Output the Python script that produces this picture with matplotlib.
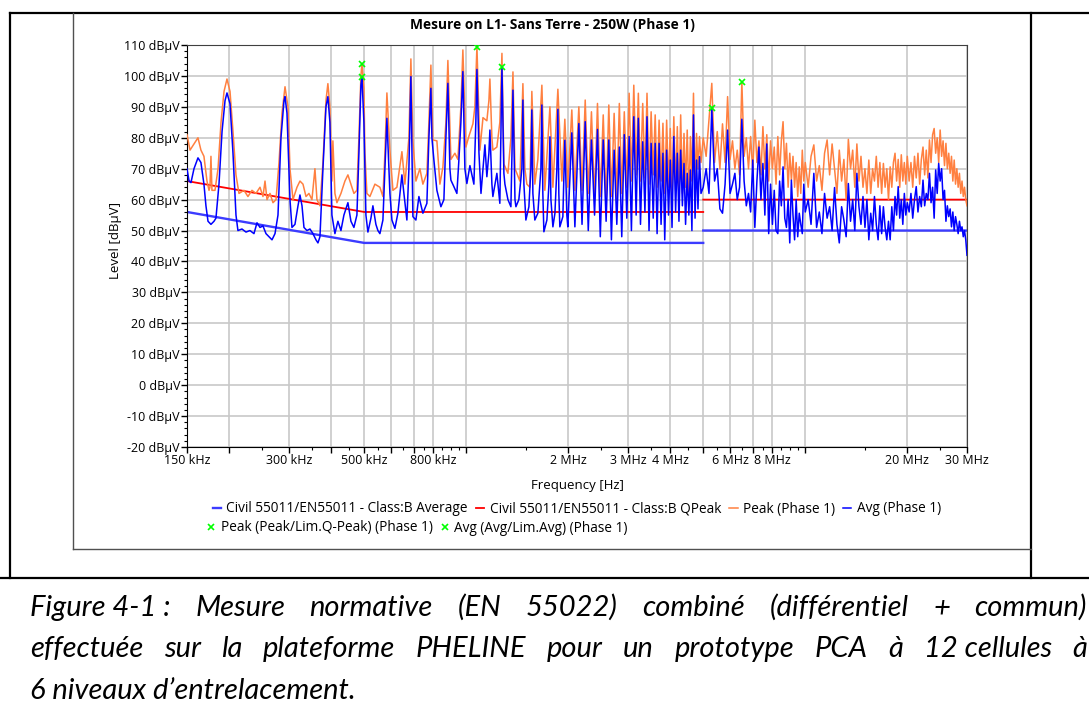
import numpy as np
import matplotlib
matplotlib.use("Agg")
import matplotlib.pyplot as plt
from matplotlib.lines import Line2D
from matplotlib.ticker import FixedLocator, FuncFormatter, MultipleLocator, LogLocator

plt.rcParams['font.family'] = ['Open Sans', 'DejaVu Sans']

W, H = 1089, 724

# EN55011 class B limits (kHz, dBuV); NaN splits the step at 5 MHz
qpeak_lim_khz = [150, 500, 5000, np.nan, 5000, 30000]
qpeak_lim_db = [66, 56, 56, np.nan, 60, 60]
avg_lim_khz = [150, 500, 5000, np.nan, 5000, 30000]
avg_lim_db = [56, 46, 46, np.nan, 50, 50]

# Peak detector, 150 kHz - 2.15 MHz
peak_lf_khz = [150, 153.1, 157.3, 161.6, 164.9, 168.3, 171.8, 174.2, 175.3, 176.5,
               177.7, 181.4, 185.2, 189.0, 192.9, 196.8, 200.9, 205.0, 209.2, 213.5,
               220.9, 226.9, 233.2, 239.6, 246.3, 251.3, 254.8, 258.3, 263.6, 269.0,
               274.6, 280.2, 286.0, 291.9, 297.8, 301.9, 308.1, 316.6, 323.1, 329.8,
               336.6, 343.4, 350.5, 357.7, 362.6, 370.1, 377.7, 385.5, 390.6, 396.0,
               401.4, 404.1, 409.7, 415.3, 426.8, 438.5, 447.5, 456.8, 466.1, 475.7,
               482.2, 488.8, 492.2, 498.9, 502.3, 509.1, 519.6, 537.6, 556.1, 567.6,
               575.4, 583.2, 595.2, 607.5, 624.2, 645.8, 659.1, 677.2, 686.4, 695.8,
               710.2, 729.7, 744.7, 765.2, 775.7, 786.3, 797.0, 819.0, 835.9, 853.1,
               870.7, 882.5, 900.7, 925.5, 944.5, 964.0, 977.1, 997.3, 1018, 1046,
               1060, 1075, 1097, 1120, 1150, 1166, 1174, 1190, 1198, 1231,
               1256, 1274, 1291, 1327, 1354, 1373, 1392, 1410, 1439, 1469,
               1489, 1509, 1540, 1561, 1593, 1626, 1671, 1705, 1765, 1801,
               1863, 1914, 1953, 1993, 2048, 2091, 2148]
peak_lf_db = [81, 76, 78, 80, 76, 74, 66, 63, 64, 74,
              63, 63, 70, 85, 95, 99, 95, 82, 68, 62,
              63, 61, 63, 62, 64, 61, 66, 60, 62, 59,
              60, 72, 88, 96.5, 90, 70, 60, 64, 66, 65,
              61, 62, 60, 70, 60, 58, 72, 92, 97.5, 90,
              66, 79, 62, 59, 62, 66, 68, 65, 62, 63,
              80, 100, 104, 96, 75, 62, 61, 65, 64, 61,
              75, 94.5, 76, 63, 64, 75.5, 65, 80, 105.5, 79,
              66, 70, 65, 68.5, 85, 103.5, 79.3, 79, 65, 70.5,
              85, 105, 73, 75, 73, 90, 108.4, 77, 80.5, 84.5,
              90, 109.5, 76, 86.5, 85.5, 92, 99, 80, 76, 77,
              85, 107.3, 71.5, 68.5, 80, 101.3, 70, 68.5, 66, 97.5,
              70, 65, 64, 95, 65, 73, 97, 63, 90, 64,
              95.7, 66, 86, 64, 89, 63, 90]

# Average detector, 150 kHz - 2.15 MHz
avg_lf_khz = [150, 152.1, 154.1, 157.3, 161.6, 164.9, 168.3, 170.6, 173.0, 176.5,
              180.2, 182.6, 186.4, 190.3, 194.2, 196.8, 200.9, 205.0, 209.2, 212.0,
              217.9, 223.9, 230.0, 236.4, 241.3, 246.3, 251.3, 256.5, 261.8, 267.2,
              272.7, 278.3, 284.0, 289.9, 291.9, 295.8, 301.9, 306.0, 312.3, 318.8,
              323.1, 327.6, 332.0, 338.8, 345.8, 352.9, 360.2, 365.1, 370.1, 377.7,
              385.5, 390.6, 396.0, 401.4, 409.7, 418.1, 426.8, 435.5, 447.5, 456.8,
              466.1, 475.7, 482.2, 488.8, 492.2, 498.9, 505.7, 512.6, 523.2, 530.3,
              541.2, 548.6, 556.1, 567.6, 575.4, 583.2, 595.2, 603.4, 615.8, 628.4,
              637.1, 645.8, 654.6, 668.0, 677.2, 686.4, 695.8, 710.2, 724.8, 744.7,
              765.2, 775.7, 786.3, 791.7, 802.5, 819.0, 841.6, 858.9, 870.7, 882.5,
              894.6, 900.7, 919.2, 938.1, 951.0, 964.0, 977.1, 990.5, 1004, 1025,
              1053, 1067, 1075, 1090, 1105, 1135, 1150, 1166, 1174, 1190,
              1198, 1231, 1256, 1265, 1274, 1291, 1300, 1327, 1354, 1364,
              1373, 1392, 1401, 1429, 1459, 1469, 1479, 1499, 1530, 1551,
              1561, 1572, 1593, 1626, 1660, 1671, 1682, 1694, 1729, 1753,
              1765, 1777, 1801, 1826, 1850, 1863, 1875, 1888, 1927, 1953,
              1980, 1993, 2048, 2091, 2148]
avg_lf_db = [70, 66, 65.5, 70, 73.5, 72, 65, 58, 53, 52,
             53, 54, 65, 82, 92, 94.5, 91, 75, 55, 50,
             50.5, 49.5, 50, 49, 52.5, 51, 51.5, 49, 48, 47,
             49, 55, 80, 92, 93.3, 88, 60, 51, 52, 58,
             61.5, 58, 51, 50, 50.5, 49, 47, 46, 48, 70,
             90, 93.3, 85, 55, 49, 53, 50, 55, 59, 53,
             51, 55, 75, 97, 99.7, 85, 55, 49.5, 54, 58,
             52, 50, 49, 53.4, 70, 86.3, 62, 53.4, 50.7, 55.6,
             62, 68, 62, 53.4, 70, 99.8, 54.5, 53.4, 61, 55.6,
             58.8, 80, 96, 80, 72.8, 63, 57.7, 60, 80, 97.6,
             70, 66.3, 64.2, 62, 72.8, 85, 101.4, 70, 65.2, 71,
             65, 85, 102.1, 75, 62, 77.7, 67.4, 75, 82.5, 65,
             61, 68.5, 58.8, 80, 103, 68.5, 65, 60, 57.7, 75,
             95.4, 60, 57.7, 60, 70, 92.2, 65, 53.4, 57.7, 70,
             89, 62, 53.4, 55.6, 70, 90.6, 62, 49.6, 53.4, 65,
             80.3, 60, 51.2, 55.6, 70, 89.2, 62, 51.2, 54.5, 79.2,
             55, 51.2, 81.6, 51.2, 84.6]

# switching harmonics between 2.2 and 4.9 MHz: tips and the floor between them
harm_khz = [2243, 2340, 2438, 2535, 2633, 2730, 2828, 2925, 3023, 3120,
            3218, 3315, 3413, 3510, 3608, 3705, 3803, 3900, 3998, 4095,
            4193, 4290, 4388, 4485, 4583, 4680, 4778, 4875]
gap_khz = [2195, 2290, 2390, 2485, 2585, 2680, 2780, 2875, 2975, 3070,
           3170, 3265, 3365, 3460, 3560, 3655, 3755, 3850, 3950, 4045,
           4145, 4240, 4340, 4435, 4535, 4630, 4730, 4825, 4925]
peak_harm_db = [92.2, 88.4, 91.1, 87.4, 90.6, 87.9, 91.1, 88.4, 94.4, 97,
                94.4, 91.1, 94.4, 88.4, 87.4, 85.7, 84.7, 85.7, 83, 86.8,
                83.6, 87.4, 81.4, 82.5, 80.4, 94.4, 81.4, 80.4]
peak_gap_db = [63, 62, 60, 61, 59, 61, 60, 62, 64, 66,
               68, 66, 67, 65, 68, 64, 66, 62, 64, 61,
               63, 60, 62, 64, 60, 66, 62, 70, 72]
avg_harm_db = [85.2, 79.3, 82.7, 79.3, 79.3, 76, 77, 81, 80.4, 86.8,
               86.3, 78.7, 86.8, 78.2, 78.2, 78.2, 75, 76, 72.8, 80.4,
               75, 76, 71.7, 68.5, 69.6, 87.4, 72.8, 73.9]
avg_gap_db = [52, 50, 55, 48, 53, 47, 52, 48, 54, 50,
              55, 52, 56, 50, 54, 49, 52, 47, 55, 51,
              56, 53, 58, 52, 55, 50, 54, 57, 62]

# 5 - 30 MHz band
hf_mhz = [5.0, 5.1, 5.2, 5.3, 5.4, 5.5, 5.6, 5.7, 5.8, 5.9,
          6.0, 6.1, 6.2, 6.3, 6.4, 6.5, 6.6, 6.7, 6.8, 6.9,
          7.0, 7.1, 7.2, 7.3, 7.4, 7.5, 7.6, 7.7, 7.8, 7.9,
          8.0, 8.1, 8.2, 8.3, 8.4, 8.5, 8.6, 8.7, 8.8, 8.9,
          9.0, 9.1, 9.2, 9.3, 9.4, 9.5, 9.6, 9.7, 9.8, 9.9,
          10.0, 10.2, 10.4, 10.6, 10.8, 11.0, 11.2, 11.4, 11.6, 11.8,
          12.0, 12.2, 12.4, 12.6, 12.8, 13.0, 13.2, 13.4, 13.6, 13.8,
          14.0, 14.2, 14.4, 14.6, 14.8, 15.0, 15.2, 15.4, 15.6, 15.8,
          16.0, 16.2, 16.4, 16.6, 16.8, 17.0, 17.2, 17.4, 17.6, 17.8,
          18.0, 18.2, 18.4, 18.6, 18.8, 19.0, 19.2, 19.4, 19.6, 19.8,
          20.0, 20.25, 20.5, 20.75, 21.0, 21.25, 21.5, 21.75, 22.0, 22.25,
          22.5, 22.75, 23.0, 23.25, 23.5, 23.75, 24.0, 24.25, 24.5, 24.75,
          25.0, 25.25, 25.5, 25.75, 26.0, 26.25, 26.5, 26.75, 27.0, 27.25,
          27.5, 27.75, 28.0, 28.25, 28.5, 28.75, 29.0, 29.25, 29.5, 29.75,
          30.0]
peak_hf_db = [80, 74, 86, 97.6, 72, 82, 70, 84.5, 72, 93.3,
              73, 79, 70, 76, 68, 98.1, 74, 80, 70, 80.4,
              69, 85.7, 72, 79, 68, 83.6, 70, 81, 66, 79,
              70, 77, 65, 80.4, 68, 79, 85.2, 70, 78.2, 64,
              75, 66.3, 74, 64, 72, 61, 70.6, 62, 76, 66,
              72, 64, 74, 77.7, 66, 71, 63, 75, 79.3, 68,
              78, 70, 62, 76, 66, 73, 60, 79.5, 70, 76,
              64, 78, 66, 74, 64, 70, 62, 72.8, 62, 70,
              66, 74, 64, 72, 62, 71.7, 64, 70, 60, 70.6,
              64, 72, 75, 66, 73, 64, 74.5, 66, 72, 65,
              74, 66, 72, 64, 74, 67, 75, 65, 73, 77,
              68, 76, 67, 79.3, 72, 81, 83, 75, 80, 72,
              82.5, 74, 79, 71, 78.2, 70, 75, 68.5, 74, 66,
              72.8, 65, 70, 64, 68.5, 62, 66, 61, 64, 60,
              58]
avg_hf_db = [64, 70, 62, 89.5, 66, 70, 57, 55.6, 65, 82.5,
             62, 65, 68.5, 60, 64, 86, 66, 58, 62, 56,
             72.8, 51, 66, 77, 60, 71.7, 55, 78, 49, 65,
             52, 63, 50, 49, 66, 58, 70.6, 54, 51, 60,
             46, 66.3, 55, 47, 60, 48, 55.6, 52, 49, 65,
             56, 60, 52, 68.5, 51, 56, 49, 62, 54, 57.7,
             50, 63.9, 52, 46, 57.7, 53.4, 48, 65.2, 53, 60,
             50, 68.5, 57.7, 52, 61, 51, 60, 47, 55.6, 50,
             61, 52, 47, 58, 49, 57.7, 51, 47, 53, 47,
             57.7, 50, 61, 55, 64.2, 54, 60, 52, 62, 55,
             59, 56, 62, 54, 60, 64.2, 56, 61, 57.7, 66.3,
             58, 62, 60, 68.5, 59, 64, 54, 69.6, 62, 71.7,
             66, 70, 60, 63, 53, 58, 54.5, 57, 51.2, 56,
             50, 54.5, 52, 49, 53, 50, 51.2, 48, 50, 47,
             42]

# worst-case points flagged against the limits
peak_mark_khz = [492.2, 1075, 6500]
peak_mark_db = [104, 109.5, 98.1]
avg_mark_khz = [492.2, 1274, 5300]
avg_mark_db = [99.7, 103, 89.5]

grid_hz = [2e5, 3e5, 4e5, 5e5, 6e5, 7e5, 8e5, 1e6, 2e6, 3e6, 4e6, 5e6, 6e6, 7e6, 8e6, 1e7, 2e7]
xlabel_hz = [1.5e5, 3e5, 5e5, 8e5, 2e6, 3e6, 4e6, 6e6, 8e6, 2e7, 3e7]
xlabel_txt = ['150 kHz', '300 kHz', '500 kHz', '800 kHz', '2 MHz', '3 MHz', '4 MHz',
              '6 MHz', '8 MHz', '20 MHz', '30 MHz']

caption_lines = [
    ['Figure 4-1 :', 'Mesure', 'normative', '(EN', '55022)', 'combiné', '(différentiel', '+',
     'commun)'],
    ['effectuée', 'sur', 'la', 'plateforme', 'PHELINE', 'pour', 'un', 'prototype', 'PCA', 'à',
     '12 cellules', 'à'],
    ['6 niveaux d’entrelacement.'],
]
caption_base = [616, 657, 699]
caption_justify = [True, True, False]


def fx(x):
    return x / W


def fy(y):
    return 1 - y / H


def stitch(tip_db, gap_db):
    khz, db = [gap_khz[0]], [gap_db[0]]
    for i in range(len(harm_khz)):
        khz += [harm_khz[i], gap_khz[i + 1]]
        db += [tip_db[i], gap_db[i + 1]]
    return khz, db


ph_khz, ph_db = stitch(peak_harm_db, peak_gap_db)
ah_khz, ah_db = stitch(avg_harm_db, avg_gap_db)
peak_hz = np.array(peak_lf_khz + ph_khz + [f * 1000 for f in hf_mhz]) * 1e3
peak_db = np.array(peak_lf_db + ph_db + peak_hf_db)
avg_hz = np.array(avg_lf_khz + ah_khz + [f * 1000 for f in hf_mhz]) * 1e3
avg_db = np.array(avg_lf_db + ah_db + avg_hf_db)

fig = plt.figure(figsize=(W / 100, H / 100), dpi=100)
ax = fig.add_axes([fx(187), fy(447), 780 / W, 402 / H])

l_alim, = ax.plot(np.array(avg_lim_khz) * 1e3, avg_lim_db, color='#3c3cff', lw=1.7, zorder=2,
                  label='Civil 55011/EN55011 - Class:B Average')
l_qlim, = ax.plot(np.array(qpeak_lim_khz) * 1e3, qpeak_lim_db, color='#ff0000', lw=1.3, zorder=2,
                  label='Civil 55011/EN55011 - Class:B QPeak')
l_peak, = ax.plot(peak_hz, peak_db, color='#ff8040', lw=1.1, zorder=3, label='Peak (Phase 1)')
l_avg, = ax.plot(avg_hz, avg_db, color='#0000ff', lw=1.1, zorder=4, label='Avg (Phase 1)')
m_peak, = ax.plot(np.array(peak_mark_khz) * 1e3, peak_mark_db, 'x', color='#00ff00', ms=5, mew=1.2,
                  zorder=5, label='Peak (Peak/Lim.Q-Peak) (Phase 1)')
m_avg, = ax.plot(np.array(avg_mark_khz) * 1e3, avg_mark_db, 'x', color='#00ff00', ms=5, mew=1.2,
                 zorder=5, label='Avg (Avg/Lim.Avg) (Phase 1)')

ax.set_xscale('log')
ax.set_xlim(1.5e5, 3e7)
ax.set_ylim(-20, 110)

xmajor = sorted(set(grid_hz + xlabel_hz))
ax.xaxis.set_major_locator(FixedLocator(xmajor))
lab = dict(zip(xlabel_hz, xlabel_txt))
ax.xaxis.set_major_formatter(FuncFormatter(lambda v, p: lab.get(v, '')))
ax.xaxis.set_minor_locator(LogLocator(base=10, subs=np.arange(1.0, 10.0, 0.5), numticks=20))
ax.xaxis.set_minor_formatter(FuncFormatter(lambda v, p: ''))
ax.yaxis.set_major_locator(MultipleLocator(10))
ax.yaxis.set_minor_locator(MultipleLocator(2))
ax.yaxis.set_major_formatter(FuncFormatter(lambda v, p: f'{v:.0f} dBµV'))
ax.tick_params(which='major', direction='out', length=4, width=1, labelsize=9, pad=1)
ax.tick_params(which='minor', direction='out', length=2, width=0.8)

ax.grid(True, which='major', color='#c8c8c8', lw=1.2, zorder=0)
ax.set_axisbelow(True)
for s in ['top', 'right']:
    ax.spines[s].set_color('#404040')
for s in ['left', 'bottom']:
    ax.spines[s].set_color('black')

fig.text(fx(552), fy(25), 'Mesure on L1- Sans Terre - 250W (Phase 1)', ha='center', va='center',
         fontsize=9.9, fontweight='bold')
fig.text(fx(115), fy(240), 'Level [dBµV]', rotation=90, ha='center', va='center', fontsize=9.5)
fig.text(fx(577), fy(486), 'Frequency [Hz]', ha='center', va='center', fontsize=9.5)

leg_kw = dict(frameon=False, fontsize=9.8, handlelength=0.6, handletextpad=0.4,
              columnspacing=0.6, borderpad=0, borderaxespad=0)
fig.legend(handles=[l_alim, l_qlim, l_peak, l_avg], loc='center', bbox_to_anchor=(fx(577), fy(509)),
           ncol=4, **leg_kw)
fig.legend(handles=[m_peak, m_avg], loc='center left', bbox_to_anchor=(fx(207), fy(528)),
           ncol=2, numpoints=1, markerscale=0.8, **leg_kw)

# table cell and chart frame
borders = [((10, 13), (1089, 13)), ((10, 13), (10, 578)), ((1031, 13), (1031, 578)),
           ((0, 578), (1089, 578))]
for (x0, y0), (x1, y1) in borders:
    fig.add_artist(Line2D([fx(x0), fx(x1)], [fy(y0), fy(y1)], color='black', lw=1.6,
                          transform=fig.transFigure))
for (x0, y0), (x1, y1) in [((73, 13), (73, 549)), ((73, 549), (1031, 549))]:
    fig.add_artist(Line2D([fx(x0), fx(x1)], [fy(y0), fy(y1)], color='#505050', lw=1.0,
                          transform=fig.transFigure))

# justified caption, 30 px to the right edge
renderer = fig.canvas.get_renderer()
left, right = 30, 1087
for words, yb, justify in zip(caption_lines, caption_base, caption_justify):
    texts = [fig.text(0, fy(yb), w, ha='left', va='baseline', fontsize=21, style='italic',
                      family=['Lato', 'DejaVu Sans']) for w in words]
    widths = [t.get_window_extent(renderer).width for t in texts]
    gap = (right - left - sum(widths)) / (len(words) - 1) if justify else 0
    x = left
    for t, w in zip(texts, widths):
        t.set_x(fx(x))
        x += w + gap

fig.savefig('out.png', dpi=100)
